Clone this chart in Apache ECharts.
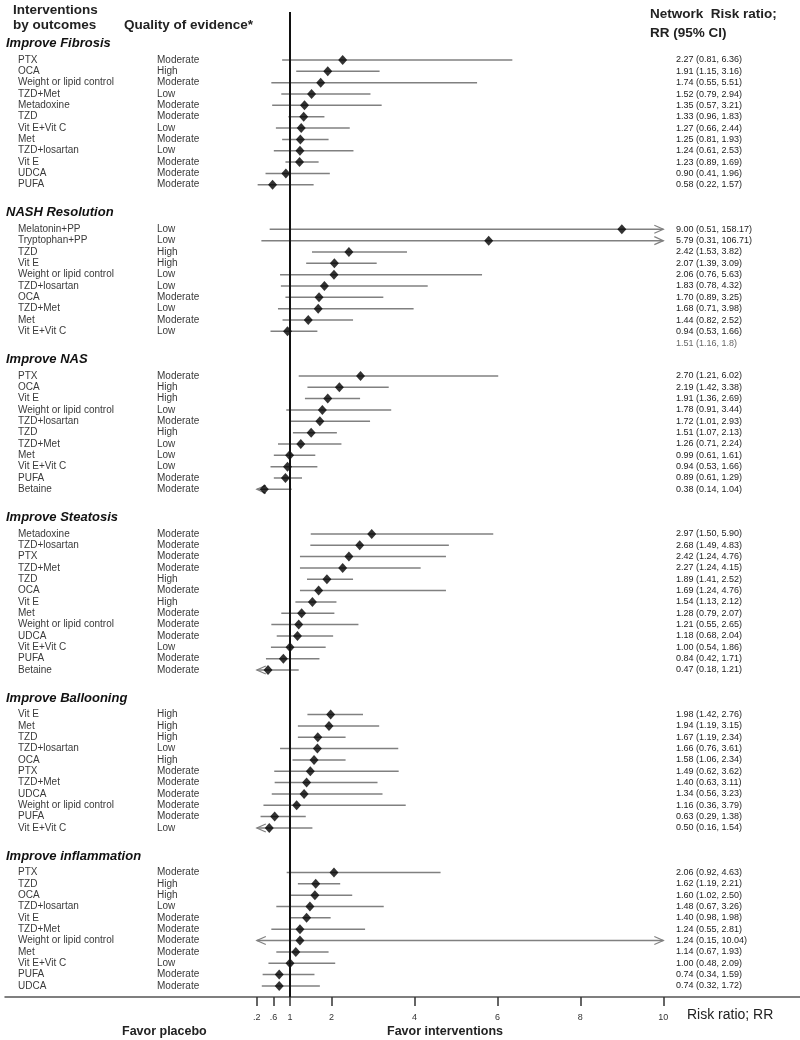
<!DOCTYPE html>
<html>
<head>
<meta charset="utf-8">
<script src="https://cdn.jsdelivr.net/npm/echarts@6/dist/echarts.min.js"></script>
<style>
html,body{margin:0;padding:0;background:#fff;}
#chart{width:800px;height:1040px;}
</style>
</head>
<body>
<div id="chart"></div>
<script>
// ---------------- DATA ----------------
const groupTitles = ['Improve Fibrosis', 'NASH Resolution', 'Improve NAS', 'Improve Steatosis', 'Improve Ballooning', 'Improve inflammation'];

const fibrosisNames = ['PTX', 'OCA', 'Weight or lipid control', 'TZD+Met', 'Metadoxine', 'TZD', 'Vit E+Vit C', 'Met', 'TZD+losartan', 'Vit E', 'UDCA', 'PUFA'];
const fibrosisQuality = ['Moderate', 'High', 'Moderate', 'Low', 'Moderate', 'Moderate', 'Low', 'Moderate', 'Low', 'Moderate', 'Moderate', 'Moderate'];
const fibrosisRR = [2.27, 1.91, 1.74, 1.52, 1.35, 1.33, 1.27, 1.25, 1.24, 1.23, 0.90, 0.58];
const fibrosisLow = [0.81, 1.15, 0.55, 0.79, 0.57, 0.96, 0.66, 0.81, 0.61, 0.89, 0.41, 0.22];
const fibrosisHigh = [6.36, 3.16, 5.51, 2.94, 3.21, 1.83, 2.44, 1.93, 2.53, 1.69, 1.96, 1.57];

const nashNames = ['Melatonin+PP', 'Tryptophan+PP', 'TZD', 'Vit E', 'Weight or lipid control', 'TZD+losartan', 'OCA', 'TZD+Met', 'Met', 'Vit E+Vit C'];
const nashQuality = ['Low', 'Low', 'High', 'High', 'Low', 'Low', 'Moderate', 'Low', 'Moderate', 'Low'];
const nashRR = [9.00, 5.79, 2.42, 2.07, 2.06, 1.83, 1.70, 1.68, 1.44, 0.94];
const nashLow = [0.51, 0.31, 1.53, 1.39, 0.76, 0.78, 0.89, 0.71, 0.82, 0.53];
const nashHigh = [158.17, 106.71, 3.82, 3.09, 5.63, 4.32, 3.25, 3.98, 2.52, 1.66];
const nashNote = '1.51 (1.16, 1.8)';

const nasNames = ['PTX', 'OCA', 'Vit E', 'Weight or lipid control', 'TZD+losartan', 'TZD', 'TZD+Met', 'Met', 'Vit E+Vit C', 'PUFA', 'Betaine'];
const nasQuality = ['Moderate', 'High', 'High', 'Low', 'Moderate', 'High', 'Low', 'Low', 'Low', 'Moderate', 'Moderate'];
const nasRR = [2.70, 2.19, 1.91, 1.78, 1.72, 1.51, 1.26, 0.99, 0.94, 0.89, 0.38];
const nasLow = [1.21, 1.42, 1.36, 0.91, 1.01, 1.07, 0.71, 0.61, 0.53, 0.61, 0.14];
const nasHigh = [6.02, 3.38, 2.69, 3.44, 2.93, 2.13, 2.24, 1.61, 1.66, 1.29, 1.04];

const steatosisNames = ['Metadoxine', 'TZD+losartan', 'PTX', 'TZD+Met', 'TZD', 'OCA', 'Vit E', 'Met', 'Weight or lipid control', 'UDCA', 'Vit E+Vit C', 'PUFA', 'Betaine'];
const steatosisQuality = ['Moderate', 'Moderate', 'Moderate', 'Moderate', 'High', 'Moderate', 'High', 'Moderate', 'Moderate', 'Moderate', 'Low', 'Moderate', 'Moderate'];
const steatosisRR = [2.97, 2.68, 2.42, 2.27, 1.89, 1.69, 1.54, 1.28, 1.21, 1.18, 1.00, 0.84, 0.47];
const steatosisLow = [1.50, 1.49, 1.24, 1.24, 1.41, 1.24, 1.13, 0.79, 0.55, 0.68, 0.54, 0.42, 0.18];
const steatosisHigh = [5.90, 4.83, 4.76, 4.15, 2.52, 4.76, 2.12, 2.07, 2.65, 2.04, 1.86, 1.71, 1.21];

const ballooningNames = ['Vit E', 'Met', 'TZD', 'TZD+losartan', 'OCA', 'PTX', 'TZD+Met', 'UDCA', 'Weight or lipid control', 'PUFA', 'Vit E+Vit C'];
const ballooningQuality = ['High', 'High', 'High', 'Low', 'High', 'Moderate', 'Moderate', 'Moderate', 'Moderate', 'Moderate', 'Low'];
const ballooningRR = [1.98, 1.94, 1.67, 1.66, 1.58, 1.49, 1.40, 1.34, 1.16, 0.63, 0.50];
const ballooningLow = [1.42, 1.19, 1.19, 0.76, 1.06, 0.62, 0.63, 0.56, 0.36, 0.29, 0.16];
const ballooningHigh = [2.76, 3.15, 2.34, 3.61, 2.34, 3.62, 3.11, 3.23, 3.79, 1.38, 1.54];

const inflammationNames = ['PTX', 'TZD', 'OCA', 'TZD+losartan', 'Vit E', 'TZD+Met', 'Weight or lipid control', 'Met', 'Vit E+Vit C', 'PUFA', 'UDCA'];
const inflammationQuality = ['Moderate', 'High', 'High', 'Low', 'Moderate', 'Moderate', 'Moderate', 'Moderate', 'Low', 'Moderate', 'Moderate'];
const inflammationRR = [2.06, 1.62, 1.60, 1.48, 1.40, 1.24, 1.24, 1.14, 1.00, 0.74, 0.74];
const inflammationLow = [0.92, 1.19, 1.02, 0.67, 0.98, 0.55, 0.15, 0.67, 0.48, 0.34, 0.32];
const inflammationHigh = [4.63, 2.21, 2.50, 3.26, 1.98, 2.81, 10.04, 1.93, 2.09, 1.59, 1.72];

const tickValues = [0.2, 0.6, 1, 2, 4, 6, 8, 10];
const tickLabels = ['.2', '.6', '1', '2', '4', '6', '8', '10'];

// ---------------- LAYOUT ----------------
const FONT = '"Liberation Sans", Arial, Helvetica, sans-serif';
const CLIP_LO = 0.2, CLIP_HI = 10;
const PX_PER_UNIT = 41.48;   // horizontal scale
const X_ONE = 290;           // pixel of RR = 1
const GRID_L = 5, GRID_R = 800;
const ROW_PX = 11.34;        // row pitch
const FIRST_ROW_PX = 60;
const GRID_T = 12, GRID_B = 997;
const GROUP_GAP = 3.93;      // slots between last row and next group's first row
const HEADER_OFF = -1.45;    // header position relative to first row

const groups = [
  {names: fibrosisNames, q: fibrosisQuality, rr: fibrosisRR, lo: fibrosisLow, hi: fibrosisHigh},
  {names: nashNames, q: nashQuality, rr: nashRR, lo: nashLow, hi: nashHigh, note: nashNote},
  {names: nasNames, q: nasQuality, rr: nasRR, lo: nasLow, hi: nasHigh},
  {names: steatosisNames, q: steatosisQuality, rr: steatosisRR, lo: steatosisLow, hi: steatosisHigh},
  {names: ballooningNames, q: ballooningQuality, rr: ballooningRR, lo: ballooningLow, hi: ballooningHigh},
  {names: inflammationNames, q: inflammationQuality, rr: inflammationRR, lo: inflammationLow, hi: inflammationHigh}
];

const rows = [];
let slot = 0;
groups.forEach((g, gi) => {
  rows.push({kind: 'header', slot: slot + HEADER_OFF, name: groupTitles[gi]});
  g.names.forEach((n, i) => {
    rows.push({kind: 'row', slot: slot, name: n, quality: g.q[i], rr: g.rr[i], lo: g.lo[i], hi: g.hi[i],
      text: g.rr[i].toFixed(2) + ' (' + g.lo[i].toFixed(2) + ', ' + g.hi[i].toFixed(2) + ')'});
    slot += 1;
  });
  const last = slot - 1;
  if (g.note) rows.push({kind: 'note', slot: last + 1.05, text: g.note});
  slot = last + GROUP_GAP;
});

const xMin = 1 - (X_ONE - GRID_L) / PX_PER_UNIT;
const xMax = 1 + (GRID_R - X_ONE) / PX_PER_UNIT;
const yMin = -(FIRST_ROW_PX - GRID_T) / ROW_PX;
const yMax = (GRID_B - FIRST_ROW_PX) / ROW_PX;

function arrowHead(x, y, dir) {
  // dir = 1 -> pointing right, -1 -> pointing left
  return {type: 'polyline', shape: {points: [[x - dir * 9, y - 4], [x, y], [x - dir * 9, y + 4]]},
    style: {stroke: '#808080', lineWidth: 1.2, fill: null}};
}

function renderRow(params, api) {
  const r = rows[params.dataIndex];
  const y = api.coord([1, r.slot])[1];
  const children = [];
  if (r.kind === 'header') {
    children.push({type: 'text', style: {x: 6, y: y, text: r.name, fontFamily: FONT, fontSize: 13, fontWeight: 'bold', fontStyle: 'italic', fill: '#111', verticalAlign: 'middle'}});
  } else if (r.kind === 'note') {
    children.push({type: 'text', style: {x: 676, y: y, text: r.text, fontFamily: FONT, fontSize: 9, fill: '#666', verticalAlign: 'middle'}});
  } else {
    const lo = Math.max(r.lo, CLIP_LO), hi = Math.min(r.hi, CLIP_HI);
    const x1 = api.coord([lo, r.slot])[0];
    const x2 = api.coord([hi, r.slot])[0];
    children.push({type: 'line', shape: {x1: x1, y1: y, x2: x2, y2: y}, style: {stroke: '#808080', lineWidth: 1.5}});
    if (r.lo < CLIP_LO) children.push(arrowHead(x1, y, -1));
    if (r.hi > CLIP_HI) children.push(arrowHead(x2, y, 1));
    children.push({type: 'text', style: {x: 18, y: y, text: r.name, fontFamily: FONT, fontSize: 10, fill: '#3a3a3a', verticalAlign: 'middle'}});
    children.push({type: 'text', style: {x: 157, y: y, text: r.quality, fontFamily: FONT, fontSize: 10, fill: '#3a3a3a', verticalAlign: 'middle'}});
    children.push({type: 'text', style: {x: 676, y: y, text: r.text, fontFamily: FONT, fontSize: 9, fill: '#222', verticalAlign: 'middle'}});
  }
  return {type: 'group', children: children};
}

const chart = echarts.init(document.getElementById('chart'), null, {renderer: 'canvas'});

const option = {
  backgroundColor: '#fff',
  animation: false,
  grid: {left: GRID_L, right: 800 - GRID_R, top: GRID_T, bottom: 1040 - GRID_B, containLabel: false},
  xAxis: {
    type: 'value', min: xMin, max: xMax, position: 'bottom',
    splitLine: {show: false},
    axisLine: {show: true, onZero: false, lineStyle: {color: '#555', width: 1.5}},
    axisTick: {show: true, length: 9, lineStyle: {color: '#333', width: 1.5}, customValues: tickValues},
    axisLabel: {show: true, customValues: tickValues, margin: 16, fontSize: 9, fontFamily: FONT, color: '#333',
      formatter: function (v) { const i = tickValues.indexOf(v); return i >= 0 ? tickLabels[i] : ''; }}
  },
  yAxis: {type: 'value', inverse: true, min: yMin, max: yMax, show: false, splitLine: {show: false}},
  series: [
    {
      type: 'custom',
      renderItem: renderRow,
      clip: false,
      silent: true,
      encode: {x: [0, 1], y: 2},
      data: rows.map(r => [r.kind === 'row' ? Math.max(r.lo, CLIP_LO) : 1, r.kind === 'row' ? Math.min(r.hi, CLIP_HI) : 1, r.slot]),
      z: 2
    },
    {
      type: 'scatter',
      symbol: 'diamond',
      symbolSize: [9, 10],
      itemStyle: {color: '#000'},
      silent: true,
      data: rows.filter(r => r.kind === 'row').map(r => [r.rr, r.slot]),
      z: 4,
      markLine: {
        silent: true, symbol: 'none', label: {show: false},
        lineStyle: {color: '#111', width: 2, type: 'solid'},
        data: [{xAxis: 1}]
      }
    }
  ],
  graphic: [
    {type: 'text', left: 13, top: 3, style: {text: 'Interventions', fontFamily: FONT, fontSize: 13.5, fontWeight: 'bold', fill: '#222'}},
    {type: 'text', left: 13, top: 18, style: {text: 'by outcomes', fontFamily: FONT, fontSize: 13.5, fontWeight: 'bold', fill: '#222'}},
    {type: 'text', left: 124, top: 18, style: {text: 'Quality of evidence*', fontFamily: FONT, fontSize: 13.5, fontWeight: 'bold', fill: '#222'}},
    {type: 'text', left: 650, top: 7, style: {text: 'Network  Risk ratio;', fontFamily: FONT, fontSize: 13.5, fontWeight: 'bold', fill: '#222'}},
    {type: 'text', left: 650, top: 26, style: {text: 'RR (95% CI)', fontFamily: FONT, fontSize: 13.5, fontWeight: 'bold', fill: '#222'}},
    {type: 'text', left: 687, top: 1008, style: {text: 'Risk ratio; RR', fontFamily: FONT, fontSize: 14, fill: '#222'}},
    {type: 'text', left: 122, top: 1025, style: {text: 'Favor placebo', fontFamily: FONT, fontSize: 12.5, fontWeight: 'bold', fill: '#222'}},
    {type: 'text', left: 387, top: 1025, style: {text: 'Favor interventions', fontFamily: FONT, fontSize: 12.5, fontWeight: 'bold', fill: '#222'}}
  ]
};
chart.setOption(option);
</script>
</body>
</html>
